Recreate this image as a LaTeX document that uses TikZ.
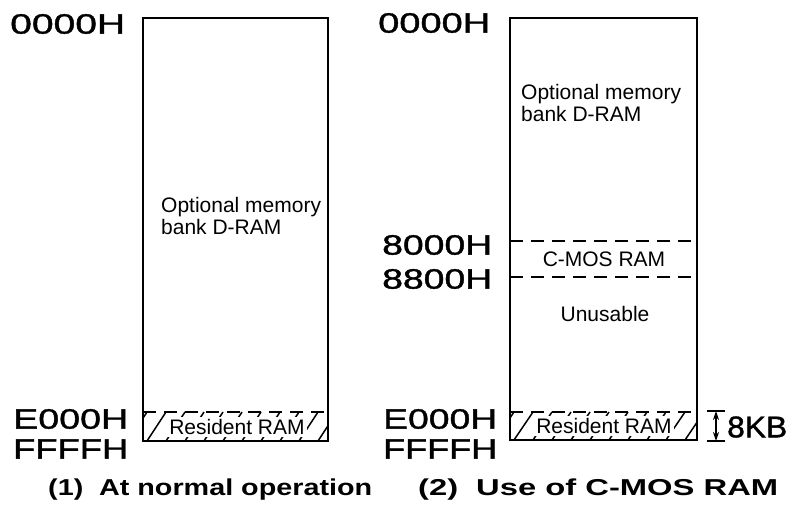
\documentclass[tikz,border=0pt]{standalone}
\usepackage{fontspec}
\setmainfont{Liberation Sans}
\newfontfamily\labfont[FakeBold=1.2]{Liberation Sans}
\usepackage{graphicx}
\usetikzlibrary{arrows.meta}
\newcommand{\biglab}[2]{\resizebox{#1pt}{\height}{\fontsize{28}{28}\labfont #2}}
\newcommand{\kblab}[2]{\resizebox{#1pt}{\height}{\fontsize{30}{30}\labfont #2}}
\newcommand{\ttl}[2]{\resizebox{#1pt}{\height}{\fontsize{23}{23}\selectfont\bfseries #2}}
\begin{document}
\begin{tikzpicture}[x=1pt,y=-1pt,
  boxline/.style={line width=2.8pt},
  sepline/.style={line width=1.9pt, dash pattern=on 13pt off 8pt},
  hatchline/.style={line width=1.5pt},
  lab/.style={inner sep=0pt, anchor=west},
  txt/.style={inner sep=0pt, font=\fontsize{21}{22}\selectfont},
  ttlnode/.style={inner sep=0pt, anchor=base west}]
\useasboundingbox (0,0) rectangle (790,526);

% ---------- left map ----------
\begin{scope}
\clip (143,412) rectangle (328,441);
\foreach \k in {-1,...,10} \draw[hatchline] ({147+\k*19},441) -- ++(19,-29);
\end{scope}
\node[txt, fill=white, inner sep=2pt] (resL) at (237,427) {Resident RAM};
\draw[sepline] (143,412) -- (328,412);
\draw[boxline] (143,18) rectangle (328,441);
\node[txt, align=left, anchor=west] (optL) at (161,216) {Optional memory\\bank D-RAM};

\node[lab] (l0) at (10,24) {\biglab{115}{0000H}};
\node[lab] (lE) at (13,419) {\biglab{115}{E000H}};
\node[lab] (lF) at (13,449) {\biglab{115}{FFFFH}};
\node[ttlnode] (t1) at (48,495) {\ttl{324}{(1)\hspace{0.55em}At normal operation}};

% ---------- right map ----------
\begin{scope}
\clip (510,412) rectangle (697,440);
\foreach \k in {-1,...,10} \draw[hatchline] ({514+\k*19},440) -- ++(19,-28);
\end{scope}
\node[txt, fill=white, inner sep=2pt] (resR) at (604,426) {Resident RAM};
\draw[sepline] (510,412) -- (697,412);
\draw[sepline] (510,241) -- (697,241);
\draw[sepline] (510,277) -- (697,277);
\draw[boxline] (510,18) rectangle (697,440);
\node[txt, align=left, anchor=west] (optR) at (521,103) {Optional memory\\bank D-RAM};
\node[txt] (cmos) at (604,259) {C-MOS RAM};
\node[txt] (unus) at (605,314) {Unusable};

\node[lab] (r0) at (378,23) {\biglab{112}{0000H}};
\node[lab] (r8) at (382,245) {\biglab{110}{8000H}};
\node[lab] (r88) at (382,279) {\biglab{110}{8800H}};
\node[lab] (rE) at (383,419) {\biglab{114}{E000H}};
\node[lab] (rF) at (383,449) {\biglab{114}{FFFFH}};
\node[ttlnode] (t2) at (418,495) {\ttl{360}{(2)\hspace{0.55em}Use of C-MOS RAM}};

% ---------- 8KB dimension ----------
\coordinate (kbT) at (716,411);
\coordinate (kbB) at (716,441);
\draw[line width=1.8pt] (707,411) -- (725,411);
\draw[line width=1.8pt] (707,441) -- (725,441);
\draw[line width=1.4pt, {Stealth[length=9pt,width=6pt]}-{Stealth[length=9pt,width=6pt]}] (kbT) -- (kbB);
\node[lab] (kb) at (727,427) {\kblab{60}{8KB}};
\end{tikzpicture}
\end{document}
